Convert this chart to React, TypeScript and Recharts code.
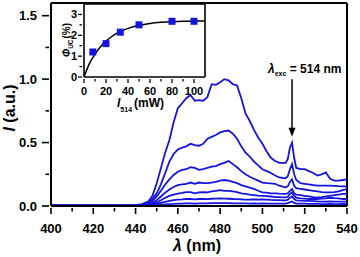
import { ComposedChart, Line, LineChart, ReferenceLine, Scatter, XAxis, YAxis } from "recharts"

const FONT = "'Liberation Sans', Arial, sans-serif"
const BLUE = "#1414e0"

// emission spectra, wavelength in nm
const wavelength = [
  400, 410, 420, 430, 436, 440,
  443, 446, 448,
  450, 452, 454, 456, 458, 460, 462, 464, 466, 468,
  470, 472, 474, 476, 478, 480, 482, 484, 486, 488,
  490, 492, 494, 496, 498, 500, 502, 504, 506, 508,
  510, 511, 512, 513, 514, 515, 516,
  518, 520, 522, 524, 526, 528, 530, 532, 534, 536, 538, 540,
]

const spec1 = [
  0.006, 0.004, 0.005, 0.004, 0.005, 0.007,
  0.015, 0.035, 0.08,
  0.18, 0.3, 0.42, 0.52, 0.66, 0.77, 0.81, 0.85, 0.875, 0.83,
  0.835, 0.83, 0.86, 0.96, 0.955, 0.975, 1.0, 0.99, 0.96, 0.95,
  0.85, 0.73, 0.67, 0.6, 0.54, 0.49, 0.43, 0.38, 0.355, 0.34,
  0.34, 0.34, 0.37, 0.46, 0.5, 0.38, 0.3,
  0.29, 0.29, 0.275, 0.26, 0.24, 0.25, 0.265, 0.215, 0.2, 0.2, 0.205, 0.21,
]

const spec2 = [
  0.004, 0.003, 0.004, 0.003, 0.004, 0.005,
  0.01, 0.025, 0.055,
  0.1, 0.17, 0.26, 0.35, 0.41, 0.445, 0.46, 0.47, 0.49, 0.48,
  0.475, 0.49, 0.53, 0.545, 0.56, 0.58, 0.59, 0.595, 0.57, 0.53,
  0.47, 0.42, 0.39, 0.35, 0.32, 0.29, 0.275, 0.26, 0.24, 0.225,
  0.22, 0.22, 0.235, 0.29, 0.33, 0.25, 0.205,
  0.18, 0.175, 0.17, 0.165, 0.16, 0.16, 0.16, 0.16, 0.158, 0.156, 0.155, 0.155,
]

const spec3 = [
  0.003, 0.004, 0.003, 0.004, 0.003, 0.004,
  0.008, 0.018, 0.04,
  0.075, 0.12, 0.17, 0.21, 0.245, 0.27, 0.285, 0.29, 0.305, 0.3,
  0.285, 0.29, 0.3, 0.31, 0.315, 0.33, 0.34, 0.355, 0.33, 0.305,
  0.275, 0.25, 0.23, 0.215, 0.2, 0.185, 0.18, 0.178, 0.175, 0.16,
  0.15, 0.147, 0.155, 0.19, 0.21, 0.16, 0.14,
  0.135, 0.13, 0.125, 0.12, 0.115, 0.11, 0.107, 0.107, 0.11, 0.115, 0.125, 0.134,
]

const spec4 = [
  0.004, 0.003, 0.004, 0.003, 0.004, 0.004,
  0.006, 0.012, 0.025,
  0.045, 0.075, 0.105, 0.13, 0.15, 0.165, 0.17, 0.175, 0.185, 0.175,
  0.185, 0.18, 0.18, 0.185, 0.19, 0.2, 0.205, 0.2, 0.19, 0.18,
  0.165, 0.155, 0.145, 0.135, 0.12, 0.107, 0.105, 0.1, 0.1, 0.097,
  0.095, 0.095, 0.1, 0.12, 0.134, 0.1, 0.09,
  0.085, 0.08, 0.075, 0.07, 0.068, 0.07, 0.075, 0.08, 0.085, 0.09, 0.095, 0.095,
]

const spec5 = [
  0.003, 0.004, 0.003, 0.003, 0.004, 0.003,
  0.005, 0.009, 0.016,
  0.028, 0.045, 0.065, 0.08, 0.09, 0.098, 0.103, 0.11, 0.11, 0.1,
  0.107, 0.11, 0.108, 0.115, 0.12, 0.125, 0.12, 0.12, 0.115, 0.11,
  0.1, 0.095, 0.09, 0.086, 0.082, 0.08, 0.078, 0.075, 0.07, 0.07,
  0.068, 0.068, 0.073, 0.095, 0.107, 0.08, 0.066,
  0.06, 0.058, 0.055, 0.055, 0.055, 0.058, 0.06, 0.065, 0.062, 0.06, 0.055, 0.055,
]

const spec6 = [
  0.003, 0.003, 0.004, 0.003, 0.003, 0.003,
  0.004, 0.006, 0.01,
  0.016, 0.025, 0.033, 0.04, 0.046, 0.05, 0.052, 0.056, 0.055, 0.052,
  0.055, 0.056, 0.054, 0.057, 0.058, 0.06, 0.058, 0.057, 0.055, 0.054,
  0.052, 0.05, 0.05, 0.052, 0.05, 0.052, 0.05, 0.048, 0.047, 0.046,
  0.045, 0.045, 0.05, 0.065, 0.075, 0.055, 0.045,
  0.042, 0.04, 0.04, 0.038, 0.036, 0.035, 0.035, 0.036, 0.035, 0.034, 0.034, 0.034,
]

const spec7 = [
  0.002, 0.003, 0.002, 0.003, 0.002, 0.003,
  0.003, 0.004, 0.005,
  0.007, 0.01, 0.012, 0.015, 0.016, 0.018, 0.019, 0.02, 0.02, 0.019,
  0.02, 0.021, 0.02, 0.022, 0.022, 0.023, 0.022, 0.022, 0.021, 0.02,
  0.02, 0.02, 0.019, 0.02, 0.019, 0.02, 0.019, 0.019, 0.018, 0.018,
  0.018, 0.018, 0.022, 0.03, 0.036, 0.024, 0.019,
  0.018, 0.018, 0.017, 0.016, 0.016, 0.015, 0.015, 0.016, 0.015, 0.015, 0.016, 0.015,
]

const spectra = [spec1, spec2, spec3, spec4, spec5, spec6, spec7]

const xTicks = [400, 410, 420, 430, 440, 450, 460, 470, 480, 490, 500, 510, 520, 530, 540]
const yTicks = [0, 0.25, 0.5, 0.75, 1, 1.25, 1.5]

// inset: quantum yield vs excitation power
const power = [8, 20, 33, 50, 80, 100]
const phiUC = [1.2, 1.6, 2.15, 2.5, 2.67, 2.67]
const fitPower = [0, 5, 10, 15, 20, 25, 30, 40, 50, 60, 70, 80, 90, 100, 110]
const fitPhi = [0, 0.65, 1.1, 1.45, 1.72, 1.93, 2.1, 2.33, 2.48, 2.57, 2.62, 2.65, 2.67, 2.68, 2.69]
const insetXTicks = [0, 10, 20, 30, 40, 50, 60, 70, 80, 90, 100]
const insetYTicks = [0, 0.5, 1, 1.5, 2, 2.5, 3]

const data = wavelength.map((w, i) => {
  const row: Record<string, number> = { w }
  spectra.forEach((s, k) => (row["s" + k] = s[i]))
  return row
})
const points = power.map((p, i) => ({ p, phi: phiUC[i] }))
const fit = fitPower.map((p, i) => ({ p, phi: fitPhi[i] }))

function MainXTick({ x, y, payload }: any) {
  const major = payload.value % 20 === 0
  return (
    <g>
      <line x1={x} x2={x} y1={y} y2={y + (major ? 6 : 3.5)} stroke="#000" strokeWidth={1.6} />
      {major && (
        <text x={x} y={y + 25} textAnchor="middle" fontFamily={FONT} fontWeight="bold" fontSize={13} fill="#000">
          {payload.value}
        </text>
      )}
    </g>
  )
}

function MainYTick({ x, y, payload }: any) {
  const v = payload.value
  const major = Math.abs(v * 2 - Math.round(v * 2)) < 1e-6
  return (
    <g>
      <line x1={x} x2={x - (major ? 7 : 3.5)} y1={y} y2={y} stroke="#000" strokeWidth={1.6} />
      {major && (
        <text x={x - 12} y={y + 4.5} textAnchor="end" fontFamily={FONT} fontWeight="bold" fontSize={13} fill="#000">
          {v.toFixed(1)}
        </text>
      )}
    </g>
  )
}

function InsetXTick({ x, y, payload }: any) {
  const major = payload.value % 20 === 0
  return (
    <g>
      <line x1={x} x2={x} y1={y} y2={y + (major ? 4 : 2.5)} stroke="#000" strokeWidth={1.3} />
      {major && (
        <text x={x} y={y + 16} textAnchor="middle" fontFamily={FONT} fontWeight="bold" fontSize={11} fill="#000">
          {payload.value}
        </text>
      )}
    </g>
  )
}

function InsetYTick({ x, y, payload }: any) {
  const major = Number.isInteger(payload.value)
  return (
    <g>
      <line x1={x} x2={x - (major ? 4 : 2.5)} y1={y} y2={y} stroke="#000" strokeWidth={1.3} />
      {major && (
        <text x={x - 5} y={y + 4} textAnchor="end" fontFamily={FONT} fontWeight="bold" fontSize={11} fill="#000">
          {payload.value}
        </text>
      )}
    </g>
  )
}

function Arrow(props: any) {
  const { x1, y1, x2, y2 } = props
  return (
    <g>
      <line x1={x1} x2={x2} y1={y1} y2={y2 - 8} stroke="#000" strokeWidth={1.5} />
      <polygon points={`${x2 - 3.5},${y2 - 9} ${x2 + 3.5},${y2 - 9} ${x2},${y2}`} fill="#000" />
      <text x={x1 - 24} y={y1 - 6} fontFamily={FONT} fontWeight="bold" fontSize={12} fill="#000">
        <tspan fontStyle="italic">λ</tspan>
        <tspan fontSize={7} dy={3}>exc</tspan>
        <tspan dy={-3}>{"\u00a0= 514 nm"}</tspan>
      </text>
    </g>
  )
}

function Square(props: any) {
  const { cx, cy } = props
  return <rect x={cx - 3.5} y={cy - 3.5} width={7} height={7} fill={BLUE} />
}

export default function App() {
  return (
    <div style={{ position: "absolute", left: 0, top: 0, width: 360, height: 257, background: "#fff" }}>
      <div style={{ position: "absolute", left: 0, top: 0 }}>
        <LineChart width={360} height={257} data={data} margin={{ top: 3, right: 13, left: 0, bottom: 0 }}>
          <XAxis
            dataKey="w"
            type="number"
            domain={[400, 540]}
            ticks={xTicks}
            interval={0}
            height={51}
            tickSize={0}
            tickLine={false}
            tick={<MainXTick />}
            axisLine={{ stroke: "#000", strokeWidth: 2 }}
          />
          <YAxis
            type="number"
            domain={[0, 1.6]}
            ticks={yTicks}
            interval={0}
            width={51}
            tickSize={0}
            tickLine={false}
            tick={<MainYTick />}
            axisLine={{ stroke: "#000", strokeWidth: 2 }}
          />
          <ReferenceLine y={1.6} stroke="#000" strokeWidth={2} />
          <ReferenceLine x={540} stroke="#000" strokeWidth={2} />
          {spectra.map((_, k) => (
            <Line
              key={k}
              dataKey={"s" + k}
              type="linear"
              stroke={BLUE}
              strokeWidth={1.8}
              dot={false}
              isAnimationActive={false}
            />
          ))}
          <ReferenceLine
            segment={[
              { x: 514, y: 1.0 },
              { x: 514, y: 0.545 },
            ]}
            shape={Arrow}
          />
        </LineChart>
      </div>
      <div style={{ position: "absolute", left: 0, top: 0 }}>
        <ComposedChart width={210} height={120} margin={{ top: 4, right: 5, left: 0, bottom: 0 }}>
          <XAxis
            dataKey="p"
            type="number"
            domain={[0, 110]}
            ticks={insetXTicks}
            interval={0}
            height={43}
            tickSize={0}
            tickLine={false}
            tick={<InsetXTick />}
            axisLine={{ stroke: "#000", strokeWidth: 1.6 }}
          />
          <YAxis
            dataKey="phi"
            type="number"
            domain={[0, 3.5]}
            ticks={insetYTicks}
            interval={0}
            width={84}
            tickSize={0}
            tickLine={false}
            tick={<InsetYTick />}
            axisLine={{ stroke: "#000", strokeWidth: 1.6 }}
          />
          <ReferenceLine y={3.5} stroke="#000" strokeWidth={1.6} />
          <ReferenceLine x={110} stroke="#000" strokeWidth={1.6} />
          <Line
            data={fit}
            dataKey="phi"
            type="monotone"
            stroke="#000"
            strokeWidth={1.5}
            dot={false}
            isAnimationActive={false}
          />
          <Scatter data={points} dataKey="phi" shape={Square} isAnimationActive={false} />
        </ComposedChart>
      </div>
      <svg width={360} height={257} style={{ position: "absolute", left: 0, top: 0, pointerEvents: "none" }}>
        <g fontFamily={FONT} fontWeight="bold" fill="#000">
          <text transform="translate(15,108) rotate(-90)" textAnchor="middle" fontSize={16}>
            <tspan fontStyle="italic">I</tspan>
            <tspan>{"\u00a0(a.u.)"}</tspan>
          </text>
          <text x={197} y={251} textAnchor="middle" fontSize={16}>
            <tspan fontStyle="italic">λ</tspan>
            <tspan>{"\u00a0(nm)"}</tspan>
          </text>
          <text transform="translate(70,40) rotate(-90)" textAnchor="middle" fontSize={10}>
            <tspan fontStyle="italic">Φ</tspan>
            <tspan fontSize={6.5} dy={3}>UC</tspan>
            <tspan dy={-3} dx={1}>(%)</tspan>
          </text>
          <text x={117} y={107} fontSize={12}>
            <tspan fontStyle="italic">I</tspan>
            <tspan fontSize={7} dy={5}>514</tspan>
            <tspan dy={-5} dx={2}>(mW)</tspan>
          </text>
        </g>
      </svg>
    </div>
  )
}
